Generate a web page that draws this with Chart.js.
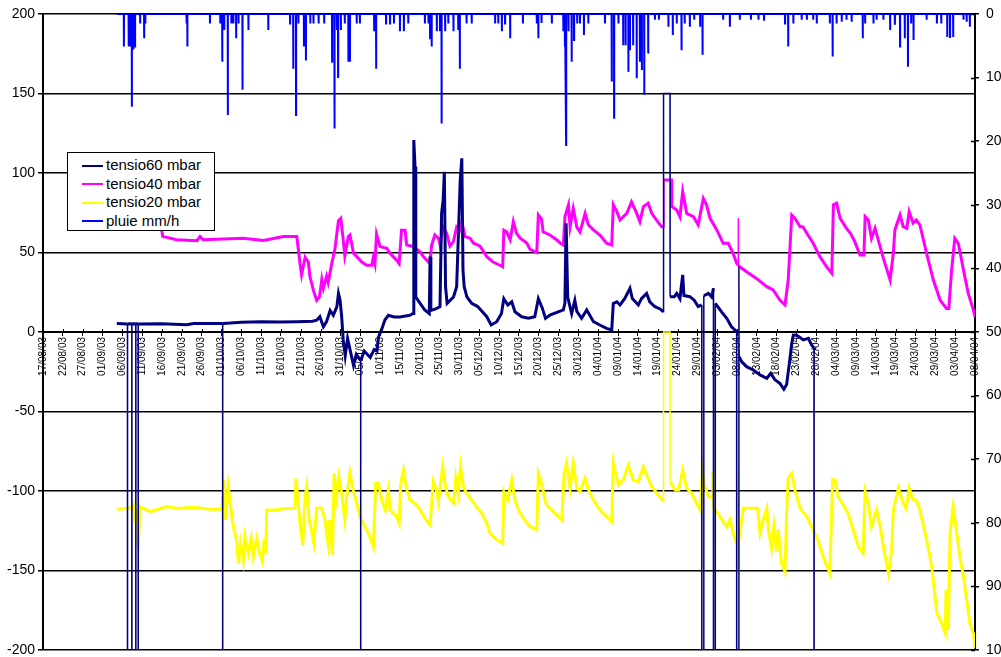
<!DOCTYPE html>
<html>
<head>
<meta charset="utf-8">
<script src="https://cdn.jsdelivr.net/npm/chart.js@4.4.1/dist/chart.umd.min.js"></script>
<style>
  html, body { margin: 0; padding: 0; background: #fff; }
  #wrap { position: relative; width: 1001px; height: 657px; overflow: hidden; }
  #legend { position: absolute; left: 67px; top: 152px; width: 146px; height: 74px; background: #fff;
            border: 1.5px solid #000; font-family: "Liberation Sans", Arial, sans-serif; font-size: 15px; color: #000;
            padding-top: 3px; box-sizing: content-box; }
  .row { position: relative; height: 18.6px; line-height: 18.6px; white-space: nowrap; }
  .sw { position: absolute; left: 14px; top: 8.5px; width: 21px; height: 2px; }
  .tx { position: absolute; left: 38px; top: 0; }
</style>
</head>
<body>
<div id="wrap">
  <canvas id="c" width="1001" height="657"></canvas>
  <div id="legend"></div>
</div>
<script>
// ---- data (x = days since 17/08/03) ----
const startDate = Date.UTC(2003, 7, 17);
const xMin = 0, xMax = 235, xStep = 5;
const leftTicks = { min: -200, max: 200, step: 50 };
const rightTicks = { min: 0, max: 100, step: 10 };

const seriesNames = ["tensio60 mbar", "tensio40 mbar", "tensio20 mbar", "pluie mm/h"];
const seriesColors = ["#000080", "#FF00FF", "#FFFF00", "#0000FF"];

// -999 = faulty sensor reading (off scale)
const tensio60 = [
 [18.6,5.4],[21.3,5],[21.31,-999],[21.32,5],[21.9,5.2],[22.4,5],[22.41,-999],[22.42,5],[22.9,5.2],
 [23.4,5],[23.41,-999],[23.42,5],[23.7,5.2],[24.0,5],[24.01,-999],[24.02,5],[30,5.2],[36.2,4.6],[38,5.3],
 [45.3,5.4],[45.31,-999],[45.32,5.4],[47.2,5.6],[50,6.2],[55,6.5],[60,6.3],[64,6.5],[68,6.8],
 [69,7.4],[69.8,9.6],[70.7,3.3],[71.5,6.5],[72.4,13.5],[73.2,10.5],[74.1,16],[74.5,24.3],[74.9,20.1],
 [75.3,10],[75.7,-5],[76.2,-15],[76.8,-4],[77.5,-12],[78.3,-21],[79,-14],[80.1,-18],[80.11,-999],[80.12,-18],
 [81,-12],[82.5,-16],[83.5,-11],[84.2,-12],[84.6,-3],[85.3,1],[86.2,7.5],[87.1,10.5],[88.5,9.5],[90,9.5],
 [92.5,10.5],[93.3,11.6],[93.5,120.7],[93.8,104],[94.0,22],[95.1,18],[96.2,14],[97.4,11.6],[97.6,47.4],[97.8,13.5],
 [99,14.5],[100.1,16],[100.5,74.6],[100.9,83],[101.2,100.8],[101.5,28.5],[101.9,18],[103.5,22],[104.3,28.5],
 [105.2,95.6],[105.6,109.2],[105.9,39],[106.2,28.5],[106.9,22],[108.1,18],[109.6,16],[111.9,9.6],[113.0,4.4],
 [114.4,6.5],[115.6,11.6],[116.2,21],[117.2,17],[118.2,19],[119.0,12.7],[120.7,9.6],[122.4,8.6],[124.0,9.6],
 [124.9,21],[125.9,15],[126.7,8.6],[127.8,10.7],[129.9,12.7],[131.2,13.9],[131.6,18],[131.9,68.4],[132.3,22],
 [133.3,11.6],[134.1,19.9],[134.6,13],[135.8,8.6],[137.1,13.9],[138.8,6.5],[140.4,4.4],[142.1,2.3],[143.4,1.3],
 [143.8,18],[144.7,19],[145.5,17],[146.7,21.1],[148,27.5],[148.6,21],[150.1,17],[150.9,21],[152.2,24.3],
 [153.0,19],[154.3,15.9],[155.6,14.5],[156.45,12.7],[156.47,150],[158.1,150],[158.12,22.2],[159.2,22.2],
 [159.8,24.3],[160.6,21],[161.0,29.6],[161.3,35.9],[161.6,23],[163.1,22.2],[164.2,20],[165.2,16],[166.1,17],
 [166.12,-999],[166.6,-999],[166.62,22.8],[167.8,24.3],[168.6,22],[169.05,27.5],[169.07,-999],[169.5,-999],
 [169.52,18],[171.1,12.7],[172.4,8.6],[173.6,3.3],[174.9,0.2],[174.92,-999],[175.45,-999],[175.47,41],
 [175.5,-15.5],[176.2,-18.7],[177.4,-21.8],[179.1,-23.9],[180.8,-27],[182.5,-29.1],[183.5,-26],[184.6,-30.2],
 [185.8,-32.3],[186.8,-36],[187.5,-33],[188.3,-17.6],[188.8,-7.1],[189.2,-1.9],[190,-2],[190.9,-3.5],
 [191.7,-5],[193,-4],[193.8,-8.2],[194.4,-10],[194.42,-999],[194.44,-10],[194.7,-11.3]
];

const tensio40 = [
 [29.8,66],[30.2,60],[31.2,59.5],[33.7,58],[38.8,57.4],[39.6,60],[40.4,58],[50.5,59],[55.6,57.5],[60.6,60],
 [64.0,60],[64.8,43],[65.2,36],[66.1,47],[66.9,44],[67.3,35],[68.2,26],[69.0,20],[69.7,22],[70.3,33],[70.7,27.5],
 [71.5,35],[71.9,31],[72.8,43],[73.6,52],[74.5,70],[75.1,71.5],[75.7,58],[76.1,48],[77.0,60],[77.4,61],[78.3,49.5],
 [79.1,47.4],[80.4,44],[81.6,42],[82.9,42],[83.3,47],[83.7,43],[84.1,61.6],[85.0,53.7],[86.7,52.6],[87.5,49.5],
 [88.3,47.4],[89.2,45],[89.8,43],[90.4,64],[91.3,64],[91.7,54.7],[93.4,53.7],[95.1,50.5],[95.9,47.4],[97.2,44],
 [97.6,45],[98.0,54.7],[98.8,61],[99.7,59],[100.1,55],[100.9,66],[101.8,62],[102.6,54],[103.5,57],[104.3,66],
 [105.1,64],[105.6,69.5],[106.4,60],[107.7,59],[108.5,56],[110.2,54],[111.9,47.4],[113.5,44],[115.2,42],[115.9,41],
 [116.2,64],[116.9,63],[117.8,58],[118.6,69.5],[119.4,62],[120.3,59],[122.0,56],[122.8,52],[124.5,50],[124.9,73.6],
 [125.7,71],[126.1,63],[127.8,61],[129.5,58],[130.4,56],[131.2,54.7],[131.6,72.5],[132.5,80],[132.9,66.2],
 [133.7,77.8],[134.6,66],[135.4,63],[136.7,74.6],[137.5,67.4],[138.8,64.2],[140.4,61],[142.1,55.8],[143.4,54.7],
 [143.8,80],[144.7,75.7],[145.5,70.4],[146.3,72.5],[147.2,74.6],[148.4,81.9],[149.7,74.6],[150.5,69.4],[151.4,78.9],
 [152.6,81],[153.5,74.6],[154.7,70.4],[156.0,66.2],[156.55,66.2],[156.57,95.6],[158.5,95.6],[158.52,78.9],
 [159.8,76.7],[160.6,72.5],[161.3,88.3],[162.3,74.6],[164,72.5],[165.2,67.4],[166.5,84],[167.3,80],[168.2,71.5],
 [169.9,64.2],[171.5,55.8],[172.8,55.8],[174,49.5],[174.9,43.2],[175.3,42],[175.32,71.5],[175.34,42],[175.7,41],
 [177.4,37.9],[179.9,33.7],[182.5,28.5],[184.1,26.4],[185.8,20.1],[187.1,17],[187.9,32.7],[188.8,73.6],[189.6,71.5],
 [190.9,66.2],[191.6,66.2],[192.6,62.1],[194.2,55.8],[195.9,47.4],[197.6,41],[198.9,36.9],[199.3,80],[200.1,81],
 [201,71.5],[202.6,65.2],[203.6,62],[204.7,56.8],[206,48.4],[207,48.4],[207.3,72.5],[208.1,70.4],[208.9,58.9],
 [209.8,65.2],[210.6,57.9],[211.9,46.3],[213.6,32.7],[214.4,49.5],[214.8,64.2],[216.1,73.6],[216.9,66.2],
 [217.8,65.2],[218.4,75.7],[219.4,68.5],[220.2,70.4],[221.1,67.4],[222.8,49.5],[224.5,32.7],[226.2,20.1],
 [227.8,14.8],[228.4,14.8],[229.1,38.9],[229.9,58.9],[230.8,55.8],[232.1,38.9],[233.3,24.3],[234.6,13.8],[235,9.6]
];

const tensio20 = [
 [18.6,-111.5],[21.9,-110.9],[22.8,-108.8],[23.2,-120.3],[23.5,-111],[24.0,-136],[24.5,-109.8],[27,-113],
 [31.2,-109.8],[34,-111],[37.9,-110.3],[42.1,-111.5],[45.1,-111.5],[45.7,-93],[46.0,-118.2],[46.7,-97.2],
 [47.2,-107.7],[48,-122.4],[48.8,-130.8],[49.3,-145.5],[49.8,-132.9],[50.5,-143.4],[50.9,-128.7],[51.8,-139.2],
 [52.5,-130],[53,-141.3],[53.9,-129.8],[54.6,-139],[55.3,-144.4],[55.8,-130],[56.2,-139.2],[56.4,-111.9],
 [58.9,-111.9],[61,-111],[63.5,-110.9],[63.8,-92],[64.3,-105.7],[64.8,-120.3],[65.5,-133.9],[66.1,-103.6],
 [66.5,-97.2],[67.1,-118.2],[67.7,-124.5],[68.3,-132.9],[69,-110.9],[70.3,-110.9],[71.1,-118.2],[71.9,-132.9],
 [72.3,-118],[73,-140.3],[73.4,-88.9],[74,-103.6],[74.6,-91],[75.3,-101.5],[76.1,-118.2],[76.6,-103.6],
 [77.4,-88.5],[78.2,-99.4],[79.1,-107.7],[79.9,-116.1],[80.7,-120.3],[81.6,-124.5],[82.4,-128.7],[83.3,-135],
 [83.9,-95.1],[84.6,-95.1],[85.4,-105.7],[86.3,-111.9],[87.1,-99.4],[87.5,-111.9],[88.3,-114],[89.2,-116.1],
 [89.8,-120.3],[90.2,-95.1],[90.9,-86.8],[91.5,-97.2],[92.5,-105.7],[93.8,-107.7],[95.1,-111.9],[96.3,-117.1],
 [97.6,-121.4],[98,-107.7],[98.4,-94.1],[99.2,-99.4],[99.7,-106.7],[100.8,-84.7],[101.4,-96.2],[102.2,-103.6],
 [103.5,-107.7],[104.1,-92],[104.7,-101.5],[105.3,-84.7],[106,-97.2],[106.8,-101.5],[108.1,-105.7],[109.3,-109.8],
 [110.6,-114],[111.9,-120.3],[112.7,-126.6],[114.4,-130.8],[115.9,-132.9],[116.2,-100.4],[117.2,-105.7],
 [118.2,-93],[119.0,-105.7],[119.9,-111.9],[121.1,-117.1],[122.8,-122.4],[124.5,-124.5],[124.9,-88.9],
 [125.7,-95],[126.6,-105.7],[127,-108.8],[128.7,-113],[130.8,-118.2],[131.4,-88.9],[132,-82.6],[132.9,-98.3],
 [133.7,-82.6],[134.6,-98],[135.4,-100.4],[136.7,-92],[137.5,-99],[138.8,-105.7],[140.4,-111.9],[142.1,-116.1],
 [143.4,-119.3],[143.8,-82.6],[145.1,-96.2],[146.3,-93],[147.6,-83.6],[148.8,-93],[150.1,-94.1],[151.4,-84.7],
 [152,-88.9],[153.5,-97.2],[154.8,-101.5],[156.45,-106.7],[156.47,0],[158.1,0],[158.12,-94.1],[159.4,-99.4],
 [160.3,-99.4],[161.3,-86.8],[162.3,-98.3],[163.6,-101.5],[164.8,-107.7],[165.7,-111.9],[166.3,-87.8],
 [166.9,-97.2],[167.8,-103.6],[168.86,-104],[168.88,-87.8],[168.9,-109.8],[170.7,-116.1],[172.4,-122.4],
 [173.2,-118],[174.4,-129.8],[175.26,-135],[175.28,-88.9],[175.3,-149.7],[175.32,-133],[176.6,-110.9],
 [179.1,-110.9],[180.2,-111],[180.8,-126.6],[181.6,-118],[182.5,-110.9],[182.9,-124],[183.7,-136],[184.3,-122],
 [185,-138.2],[185.4,-124],[186.2,-145.5],[187.1,-150.7],[187.5,-114],[187.9,-92],[188.8,-88.9],[189.6,-99.4],
 [190.9,-110.9],[192.6,-116.1],[194.2,-124.5],[195.4,-130.8],[196.7,-141.3],[198.4,-151.7],[199.1,-93],
 [199.7,-93],[200.5,-103.6],[201.8,-108.8],[203,-114],[204.3,-124.5],[205.6,-135],[206.8,-139.2],[207.3,-100.4],
 [208.1,-107.7],[208.9,-122.4],[210.2,-111.9],[211.1,-122.4],[211.9,-135],[213.2,-151.7],[214,-137.1],
 [214.4,-111.9],[215.7,-98.3],[216.9,-107.7],[217.6,-110.9],[218.4,-98.3],[219.4,-105.7],[220.2,-105.7],
 [221.1,-111.9],[222.8,-130.8],[224.1,-147.6],[225.4,-177],[226.6,-183.2],[227.5,-189.5],[227.7,-162.2],
 [228.3,-187.4],[228.7,-126.6],[229.5,-109.8],[230.3,-124.5],[231.2,-141.3],[232.1,-153.9],[232.9,-168.6],
 [233.7,-183.2],[234.6,-189.5],[235,-199]
];

// rain: recording period and hourly peaks (day, mm/h)
const rainPeriod = [18.6, 235];
const rainEvents = [
 [20.4,5.1],[21.6,5.1],[21.9,5.1],[22.4,14.6],[22.8,5.6],[23.2,5.1],[24.5,1.5],[25.5,3.8],[25.8,1.5],
 [36.2,1.5],[36.4,5.1],[42.1,1.5],[44.7,1.5],[45.2,7.5],[45.7,2.5],[46.6,15.9],[47.5,1.5],[48.0,1.5],[48.7,3.8],
 [49.3,1.5],[50.3,11.9],[51.8,2.5],[56.8,2.5],[62.3,1.5],[63.1,8.6],[63.8,15.9],[64.4,1.5],[65.8,5.1],[66.3,7.3],
 [67.4,1.5],[68.2,1.5],[69.5,1.5],[70.9,1.5],[72.9,7.5],[73.5,18],[74.1,2.5],[74.4,9.9],[75.1,2.5],[76.1,1.5],
 [77,7.5],[77.4,7.5],[79.1,1.5],[79.9,1.5],[83.5,2.7],[84,8.6],[86.5,1.5],[87.5,1.5],[88.5,1.5],[90,2.7],
 [91,2.7],[92.1,1.5],[96.3,1.5],[97.2,1.5],[97.6,3.8],[98,5.1],[99.3,2.7],[100.1,2.7],[100.5,17.2],[101.4,2.7],
 [102.2,1.5],[103.5,2.7],[104.7,2.5],[105.1,8.6],[106.8,1.5],[108.1,1.5],[114,1.5],[114.8,1.5],[115.7,2.7],
 [116.5,1.5],[117.8,3.8],[121,1.5],[124.5,1.5],[124.9,3.8],[125.7,1.4],[128.3,1.5],[131.2,2.7],[131.6,5.1],
 [131.9,20.6],[132.5,2.7],[133.3,7.5],[133.9,4.1],[134.7,1.5],[135.4,1.5],[136.4,3.3],[137.5,1.5],[141.7,1.5],
 [143.4,10.6],[144.0,16.3],[145.1,1.5],[146.3,4.9],[146.9,4.9],[147.6,9.1],[148.0,5.7],[148.8,4.9],[149.7,10.1],
 [150.5,7.5],[151.0,8.8],[151.6,12.7],[152.6,6.2],[154.3,0.9],[155.3,0.9],[157.7,2],[158.8,3.3],[159.8,1.5],
 [161.0,5.7],[161.8,1.5],[163.1,2],[164.2,0.9],[165.7,2],[166.3,6.4],[171.5,0.9],[173.2,2],[175.7,0.9],
 [178.5,0.9],[180.4,0.9],[181.8,0.9],[187.1,1.5],[187.9,5.1],[189.2,1.5],[191.3,0.9],[192.6,0.9],[194.2,0.9],
 [195.1,1.5],[198.4,1.5],[199.1,6.7],[200.1,1.5],[201.4,1.2],[202.6,0.9],[203.9,1.2],[206.7,3.8],[207.3,1.5],
 [209.4,1.5],[210.2,0.9],[211.9,0.9],[213.6,2.5],[214.8,1.7],[216.1,5.1],[217.3,3.8],[218.1,8.3],[218.9,1.5],
 [219.5,4.1],[222.8,0.9],[225.4,1.5],[226.5,1.5],[228.0,3.6],[228.7,3.6],[229.5,3.6],[232.1,0.9],[232.9,1.2],
 [233.7,2]
];

// ---- helpers ----
const toPts = arr => arr.map(p => ({ x: p[0], y: p[1] }));
function rainPts() {
  const pts = [{ x: rainPeriod[0], y: 0 }];
  rainEvents.slice().sort((a, b) => a[0] - b[0]).forEach(e => {
    pts.push({ x: e[0] - 0.03, y: 0 }, { x: e[0], y: e[1] }, { x: e[0] + 0.03, y: 0 });
  });
  pts.push({ x: rainPeriod[1], y: 0 });
  return pts;
}
function jump(d, i) {
  const a = d[i], b = d[i + 1];
  if (!a || !b) return false;
  return Math.abs(b.x - a.x) < 0.1 && Math.abs(b.y - a.y) > 20;
}
function segWidth(d) {
  return ctx => {
    const i = ctx.p0DataIndex;
    return (jump(d, i) || (jump(d, i - 1) && jump(d, i + 1))) ? 1.5 : 3;
  };
}
const pad2 = n => (n < 10 ? '0' : '') + n;
function fmtDay(v) {
  const dt = new Date(startDate + Math.round(v) * 86400000);
  return pad2(dt.getUTCDate()) + '/' + pad2(dt.getUTCMonth() + 1) + '/' + pad2(dt.getUTCFullYear() % 100);
}

const d60 = toPts(tensio60), d40 = toPts(tensio40), d20 = toPts(tensio20), dRain = rainPts();

const FONT = '"Liberation Sans", Arial, sans-serif';
Chart.defaults.font.family = FONT;

const crossTicks = {
  id: 'crossTicks',
  afterDraw(chart) {
    const ctx = chart.ctx, y2 = chart.scales.y2, x = chart.scales.x, y = chart.scales.y;
    ctx.save();
    ctx.strokeStyle = '#000';
    ctx.lineWidth = 1.5;
    y2.ticks.forEach(t => {
      const py = Math.round(y2.getPixelForValue(t.value)) + 0.5;
      ctx.beginPath(); ctx.moveTo(y2.left - 4, py); ctx.lineTo(y2.left, py); ctx.stroke();
    });
    const y0 = y.getPixelForValue(0);
    ctx.lineWidth = 1;
    x.ticks.forEach(t => {
      const px = Math.round(x.getPixelForValue(t.value)) + 0.5;
      ctx.beginPath(); ctx.moveTo(px, y0 - 3); ctx.lineTo(px, y0); ctx.stroke();
    });
    ctx.restore();
  }
};

const noVPad = s => { s.paddingTop = 0; s.paddingBottom = 0; };

const chart = new Chart(document.getElementById('c'), {
  type: 'line',
  data: {
    datasets: [
      { label: seriesNames[3], data: dRain, yAxisID: 'y2', borderColor: seriesColors[3], borderWidth: 2, pointRadius: 0 },
      { label: seriesNames[0], data: d60, yAxisID: 'y', borderColor: seriesColors[0], borderWidth: 3, pointRadius: 0, segment: { borderWidth: segWidth(d60) } },
      { label: seriesNames[1], data: d40, yAxisID: 'y', borderColor: seriesColors[1], borderWidth: 3, pointRadius: 0, segment: { borderWidth: segWidth(d40) } },
      { label: seriesNames[2], data: d20, yAxisID: 'y', borderColor: seriesColors[2], borderWidth: 3, pointRadius: 0, segment: { borderWidth: segWidth(d20) } }
    ]
  },
  options: {
    responsive: false,
    animation: false,
    parsing: false,
    normalized: true,
    layout: { padding: { top: 14, bottom: 7, left: 0, right: 0 } },
    elements: { line: { tension: 0, borderJoinStyle: 'miter', borderCapStyle: 'butt' }, point: { radius: 0 } },
    plugins: { legend: { display: false }, tooltip: { enabled: false } },
    scales: {
      x: {
        type: 'linear', position: { y: 0 }, min: xMin, max: xMax,
        ticks: { stepSize: xStep, autoSkip: false, minRotation: 90, maxRotation: 90, color: '#000',
                 font: { size: 10, family: FONT }, padding: 2, callback: v => fmtDay(v) },
        grid: { drawOnChartArea: false, drawTicks: true, tickLength: 3, color: '#000', lineWidth: 1 },
        border: { display: true, color: '#000', width: 1 },
        afterFit: s => { s.paddingLeft = 0; s.paddingRight = 0; }
      },
      y: {
        position: 'left', min: leftTicks.min, max: leftTicks.max,
        ticks: { stepSize: leftTicks.step, color: '#000', font: { size: 14, family: FONT, lineHeight: 1 }, padding: 3 },
        grid: { color: '#000', lineWidth: 1.5, tickLength: 5 },
        border: { color: '#000', width: 2 },
        afterFit: s => { s.width = 43; noVPad(s); }
      },
      y2: {
        position: 'right', reverse: true, min: rightTicks.min, max: rightTicks.max,
        ticks: { stepSize: rightTicks.step, color: '#000', font: { size: 14, family: FONT, lineHeight: 1 }, padding: 7 },
        grid: { drawOnChartArea: false, color: '#000', lineWidth: 1.5, tickLength: 4 },
        border: { color: '#000', width: 2 },
        afterFit: s => { s.width = 26; noVPad(s); }
      }
    }
  },
  plugins: [crossTicks]
});

// HTML legend in Excel order
const legend = document.getElementById('legend');
seriesNames.forEach((name, i) => {
  const row = document.createElement('div'); row.className = 'row';
  const sw = document.createElement('span'); sw.className = 'sw'; sw.style.background = seriesColors[i];
  const tx = document.createElement('span'); tx.className = 'tx'; tx.textContent = name;
  row.appendChild(sw); row.appendChild(tx); legend.appendChild(row);
});
</script>
</body>
</html>
